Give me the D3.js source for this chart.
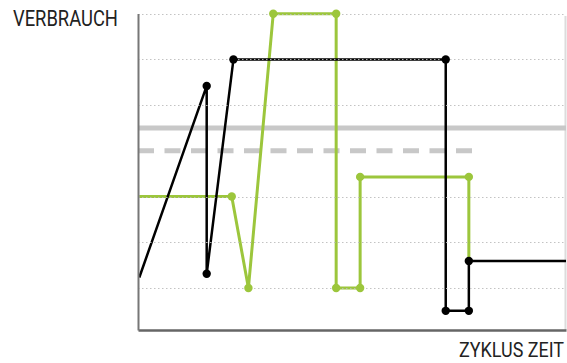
<!DOCTYPE html>
<html><head><meta charset="utf-8">
<script src="https://cdn.jsdelivr.net/npm/d3@7"></script>
<style>body{margin:0;background:#fff}svg{display:block}</style>
</head><body>
<svg id="c" width="567" height="363"></svg>
<script>
// Data (x: % of cycle time, y: consumption units)
const blackX = [0.3, 16.05, 16.05, 22.3, 71.9, 71.9, 77.3, 77.3, 100];
const blackY = [1.23, 5.42, 1.31, 6, 6, 0.5, 0.5, 1.59, 1.59];
const blackDots = [false, true, true, true, true, true, true, true, false];
const greenX = [0.3, 21.9, 25.8, 31.6, 46.3, 46.3, 51.9, 51.9, 77.3, 77.3];
const greenY = [3, 3, 1, 7, 7, 1, 1, 3.43, 3.43, 1.59];
const greenDots = [false, true, true, true, true, true, true, true, true, false];
const gridValues = [1, 2, 3, 5, 6, 7];
const solidRef = 4.5;
const dashedRef = 4;
const dashedRefEnd = 78.3;
const yLabel = "VERBRAUCH";
const xLabel = "ZYKLUS ZEIT";

const svg = d3.select("#c");
const L = 138, R = 566, B = 330, T = 13.5;
const x = d3.scaleLinear().domain([0, 100]).range([L, R]);
const y = d3.scaleLinear().domain([0, 7]).range([333.7, 13.7]);

// right light border
svg.append("line").attr("x1", 565.5).attr("x2", 565.5).attr("y1", 16).attr("y2", B)
  .attr("stroke", "#dcdcdc").attr("stroke-width", 2);

// reference lines
svg.append("line").attr("x1", x(0)).attr("x2", x(100)).attr("y1", y(solidRef)).attr("y2", y(solidRef))
  .attr("stroke", "#c8c8c8").attr("stroke-width", 5);
svg.append("line").attr("x1", x(0)).attr("x2", x(dashedRefEnd)).attr("y1", y(dashedRef)).attr("y2", y(dashedRef))
  .attr("stroke", "#c8c8c8").attr("stroke-width", 5).attr("stroke-dasharray", "16,10.5");

const line = d3.line().x(d => x(d[0])).y(d => y(d[1]));
const green = "#9cc63c";

function series(xs, ys, dots, color, w) {
  const pts = xs.map((v, i) => [v, ys[i]]);
  svg.append("path").attr("d", line(pts)).attr("fill", "none")
    .attr("stroke", color).attr("stroke-width", w).attr("stroke-linejoin", "miter");
  return pts.filter((p, i) => dots[i]);
}
const gDots = series(greenX, greenY, greenDots, green, 3);
const bDots = series(blackX, blackY, blackDots, "#000", 2.5);

// gridlines (drawn over the lines, as in the reference)
svg.append("g").selectAll("line").data(gridValues).join("line")
  .attr("x1", L).attr("x2", R).attr("y1", d => Math.round(y(d)) + 0.5).attr("y2", d => Math.round(y(d)) + 0.5)
  .attr("stroke", "#bdbdbd").attr("stroke-width", 1).attr("stroke-dasharray", "1.5,2.5").attr("opacity", 0.9);

svg.append("g").selectAll("circle").data(gDots).join("circle")
  .attr("cx", d => x(d[0])).attr("cy", d => y(d[1])).attr("r", 4.2).attr("fill", green);
svg.append("g").selectAll("circle").data(bDots).join("circle")
  .attr("cx", d => x(d[0])).attr("cy", d => y(d[1])).attr("r", 4.2).attr("fill", "#000");

// axes (domain lines only)
const ax = d3.scaleLinear().domain([0, 100]).range([L, R]);
const gx = svg.append("g").attr("transform", `translate(0,${B})`)
  .call(d3.axisBottom(ax).tickValues([]).tickSizeOuter(0));
gx.select(".domain").attr("stroke", "#666").attr("stroke-width", 2.5);
const ay = d3.scaleLinear().domain([0, 1]).range([B, T]);
const gy = svg.append("g").attr("transform", `translate(${L},0)`)
  .call(d3.axisLeft(ay).tickValues([]).tickSizeOuter(0));
gy.select(".domain").attr("stroke", "#777").attr("stroke-width", 2);

const font = "'Liberation Sans Narrow', 'Roboto', 'Liberation Sans', sans-serif";
function label(txt, px, py, anchor, size, width) {
  const t = svg.append("text").text(txt).attr("text-anchor", anchor)
    .attr("font-family", font).attr("font-size", size).attr("fill", "#222");
  const w = t.node().getComputedTextLength() || width;
  t.attr("transform", `translate(${px},${py}) scale(${width / w},1)`);
}
label(yLabel, 13, 26, "start", 22, 105);
label(xLabel, 564, 357, "end", 21, 105);
</script>
</body></html>
